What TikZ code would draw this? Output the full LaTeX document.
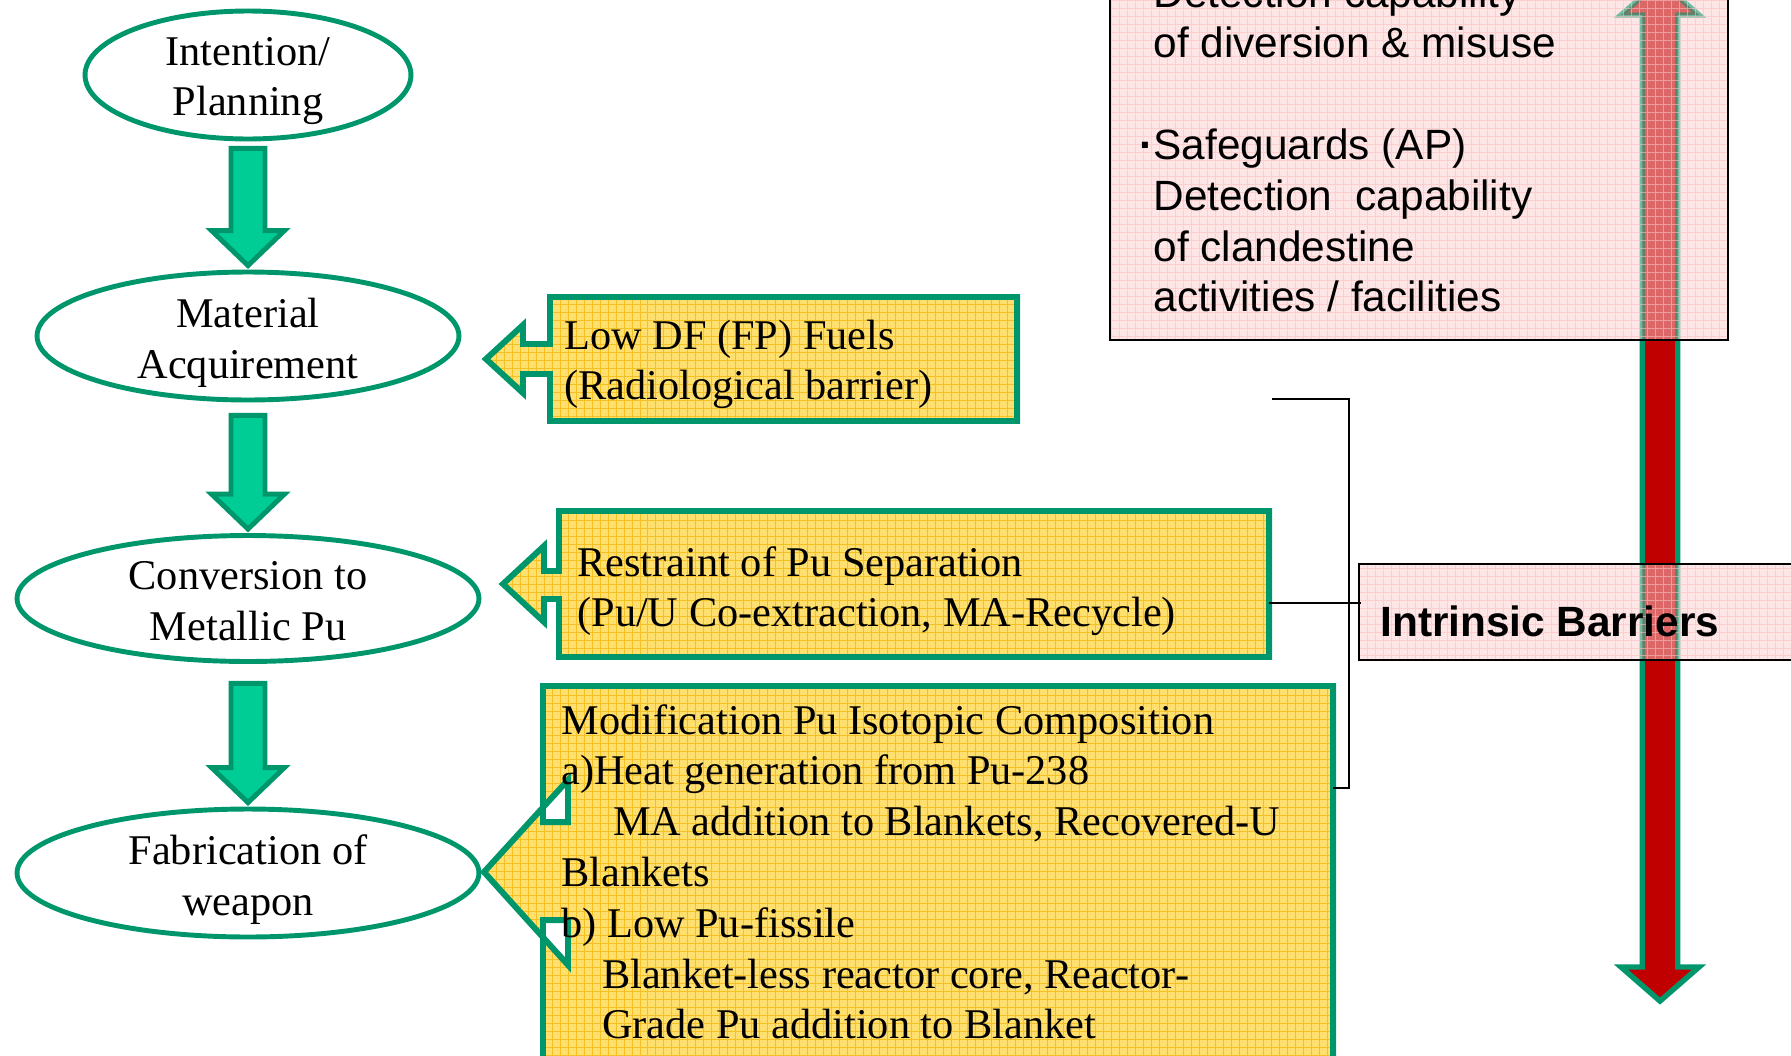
\documentclass[tikz,border=0pt]{standalone}
\usepackage{fontspec}
\setmainfont{Liberation Serif}
\setsansfont{Liberation Sans}
\usetikzlibrary{calc,shapes.geometric}

\definecolor{dgreen}{RGB}{0,150,108}
\definecolor{lgreen}{RGB}{0,204,150}
\definecolor{ybase}{RGB}{255,224,110}
\definecolor{ygrid}{RGB}{245,192,35}
\definecolor{pbase}{RGB}{255,230,230}
\definecolor{pgridc}{RGB}{250,190,190}
\definecolor{barred}{RGB}{192,0,0}

\newcommand\topstrut{\rule{0pt}{20pt}}
\newcommand\dotmark{\textbf{·}}

% thick down arrow between two stage ellipses
\newcommand\fatdown[3]{%
  \draw[fatarr] ($(#1.south)+(-17,#3)$) -- ($(#2.north)+(-17,-39)$)
    -- ($(#2.north)+(-36.5,-39)$) -- ($(#2.north)+(0,-4)$)
    -- ($(#2.north)+(36.5,-39)$) -- ($(#2.north)+(17,-39)$)
    -- ($(#1.south)+(17,#3)$) -- cycle;}

% outlines of the three callouts and of the barrier arrow
\def\calloutA{(550,297) -- (1017,297) -- (1017,421) -- (550,421) -- (550,374) -- (523,374) -- (523,393) -- (486,359) -- (523,325) -- (523,344) -- (550,344) -- cycle}
\def\calloutB{(559,511) -- (1269,511) -- (1269,657) -- (559,657) -- (559,599) -- (544,599) -- (544,622) -- (503,584) -- (544,546) -- (544,571) -- (559,571) -- cycle}
\def\calloutC{(543,686) -- (1333,686) -- (1333,1075) -- (543,1075) -- (543,920) -- (568,920) -- (568,965) -- (484,872) -- (568,780) -- (568,822) -- (543,822) -- cycle}
\def\redarr{(1642.3,15) -- (1642.3,967) -- (1621,967) -- (1660,1001) -- (1699,967) -- (1677.7,967) -- (1677.7,15) -- (1699,15) -- (1660,-19) -- (1621,15) -- cycle}
\def\pinkA{(1110,-20) rectangle (1728,340)}
\def\pinkB{(1359,564) rectangle (1810,660)}

\tikzset{
  txt/.style={font=\fontsize{24.1pt}{28.9pt}\selectfont},
  sanstxt/.style={font=\fontsize{24.1pt}{28.9pt}\selectfont\sffamily},
  stage/.style={ellipse, draw=dgreen, line width=2.8pt, inner sep=0pt},
  stagetext/.style={txt, align=center, inner sep=0pt},
  fatarr/.style={fill=lgreen, draw=dgreen, line width=2.8pt, line join=miter},
  callout/.style={draw=dgreen, line width=3.4pt, line join=miter, even odd rule},
  ygridline/.style={draw=ygrid, line width=0.45pt},
  pgridline/.style={draw=pgridc, line width=0.45pt},
  barrier/.style={fill=barred, draw=dgreen, line width=3.1pt, line join=miter},
  boxtext/.style={txt, anchor=north west, inner sep=0pt, align=left},
  sansbox/.style={sanstxt, anchor=north west, inner sep=0pt, align=left},
  bracket/.style={draw=black, line width=1.2pt},
  pinkedge/.style={draw=black, line width=1.2pt},
}

\begin{document}
\begin{tikzpicture}[x=0.02cm, y=-0.02cm]
\useasboundingbox (0,0) rectangle (1791,1055);
\clip (0,0) rectangle (1791,1055);

% barrier arrow
\draw[barrier] \redarr;

% pink panels, translucent over the arrow
\foreach \pbox in {\pinkA,\pinkB}{
  \fill[pbase] \pbox;
  \begin{scope}
    \clip \pbox;
    \draw[barrier, opacity=0.55] \redarr;
    \draw[pgridline, opacity=0.6] (1100,1060) grid[step=0.16cm] (1810,-30);
  \end{scope}
  \draw[pinkedge] \pbox;
}

% yellow callouts
\foreach \cpath in {\calloutA,\calloutB,\calloutC}{
  \fill[ybase, even odd rule] \cpath;
  \begin{scope}[even odd rule]
    \clip \cpath;
    \draw[ygridline] (470,1080) grid[step=0.16cm] (1350,280);
  \end{scope}
  \draw[callout] \cpath;
}

% stages
\node[stage, minimum width=6.52cm, minimum height=2.56cm] (e1) at (248,75) {};
\node[stage, minimum width=8.44cm, minimum height=2.56cm] (e2) at (248,336) {};
\node[stage, minimum width=9.24cm, minimum height=2.52cm] (e3) at (248,598.5) {};
\node[stage, minimum width=9.24cm, minimum height=2.56cm] (e4) at (248,873) {};
\node[stagetext] (l1) at ($(e1.center)+(0,6)$) {Intention/\\Planning};
\node[stagetext] (l2) at ($(e2.center)+(0,6.5)$) {Material\\Acquirement};
\node[stagetext] (l3) at ($(e3.center)+(0,3)$) {Conversion to\\Metallic Pu};
\node[stagetext] (l4) at ($(e4.center)+(0,6.5)$) {Fabrication of\\weapon};

\fatdown{e1}{e2}{7}
\fatdown{e2}{e3}{13}
\fatdown{e3}{e4}{19.5}

% callout texts
\node[boxtext] (t1) at (564,313.7) {\topstrut Low DF (FP) Fuels\\(Radiological barrier)};
\node[boxtext] (t2) at (577,540.7) {\topstrut Restraint of Pu Separation\\(Pu/U Co-extraction, MA-Recycle)};
\node[boxtext] (t3) at (561,698.7) {\topstrut Modification Pu Isotopic Composition\\
a)Heat generation from Pu-238\\
\hspace*{29.5pt}MA addition to Blankets, Recovered-U\\
Blankets\\
b) Low Pu-fissile\\
\hspace*{23.2pt}Blanket-less reactor core, Reactor-\\
\hspace*{23.2pt}Grade Pu addition to Blanket};

% safeguards panel text
\node[sansbox] (t4) at (1139,-28.3) {\topstrut\phantom{\dotmark}Detection capability\\
\phantom{\dotmark}of diversion \& misuse\\
\mbox{}\\
\dotmark Safeguards (AP)\\
\phantom{\dotmark}Detection\ \ capability\\
\phantom{\dotmark}of clandestine\\
\phantom{\dotmark}activities / facilities};

\node[sanstxt, anchor=base west, inner sep=0pt] (ib) at (1380,636) {\bfseries Intrinsic Barriers};

% bracket joining the intrinsic measures
\coordinate (brtop) at (1272,399);
\coordinate (brmid) at (1269,603);
\coordinate (brbot) at (1333,788);
\coordinate (ibin) at (1361,603);
\draw[bracket] (brtop) -- (1349,399) -- (1349,788) -- (brbot);
\draw[bracket] (brmid) -- (ibin);
\end{tikzpicture}
\end{document}
